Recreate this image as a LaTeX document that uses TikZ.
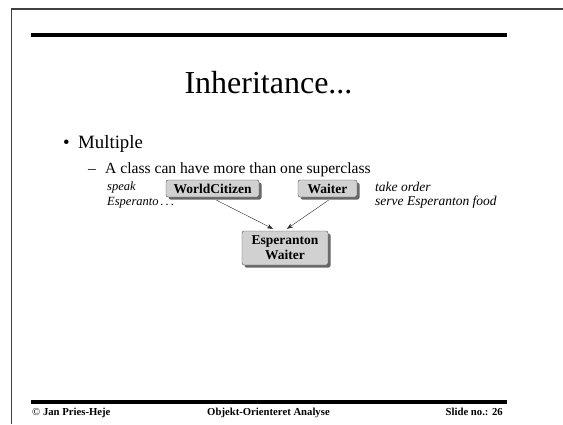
\documentclass[tikz,border=0pt]{standalone}
\usepackage{fontspec}
\setmainfont{Liberation Serif}
\usetikzlibrary{positioning,shadows,arrows.meta}

\begin{document}
\begin{tikzpicture}[x=1pt, y=-1pt,
    classbox/.style={draw=black!70, fill=black!18, rounded corners=2pt, inner sep=0pt, minimum height=17pt, font=\fontsize{13.5}{15}\selectfont\bfseries, drop shadow={shadow xshift=2.5pt, shadow yshift=-2.5pt, fill=black!60, opacity=1}},
    note/.style={anchor=base west, inner sep=0pt, font=\fontsize{13.5}{15}\selectfont\itshape},
    foot/.style={inner sep=0pt, font=\fontsize{10.7}{12}\selectfont\bfseries},
    rule/.style={line width=4pt}]
        \useasboundingbox (0,0) rectangle (563,424);
        % Frame
        \draw[line width=1.6pt, black!75] (11.5,424) -- (11.5,9) -- (563,9);
        \draw[rule] (31,35) -- (507,35);
        \draw[rule] (31,402) -- (507,402);

        % Nodes
        \node[anchor=base, inner sep=0pt, font=\fontsize{32}{38}\selectfont] (title) at (268.5,93) {Inheritance...};
        \node[anchor=base west, inner sep=0pt, font=\fontsize{18.8}{22}\selectfont] (bullet) at (63,148) {•};
        \node[anchor=base west, inner sep=0pt, font=\fontsize{18.8}{22}\selectfont] (multiple) at (78,148) {Multiple};
        \node[anchor=base west, inner sep=0pt, font=\fontsize{15.6}{18}\selectfont] (dash) at (88,173) {–};
        \node[anchor=base west, inner sep=0pt, font=\fontsize{15.6}{18}\selectfont] (point) at (105,173) {A class can have more than one superclass};
        \node[note, font=\fontsize{12.5}{14}\selectfont\itshape] (speak) at (107,190) {speak};
        \node[note, font=\fontsize{12.5}{14}\selectfont\itshape] (esperanto) at (107,205) {Esperanto\,.\,.\,.};
        \node[note] (order) at (375,191) {take order};
        \node[note] (serve) at (375,205) {serve Esperanton food};
        \node[classbox, minimum width=93pt] (wc) at (212.5,188.5) {WorldCitizen};
        \node[classbox, minimum width=59pt] (waiter) at (327.5,188.5) {Waiter};
        \node[classbox, minimum width=86pt, minimum height=34pt, align=center] (ew) at (285,248) {Esperanton\\Waiter};
        \node[foot, anchor=base west] (author) at (32,415) {\mdseries©\bfseries{} Jan Pries-Heje};
        \node[foot, anchor=base] (course) at (268.5,415) {Objekt-Orienteret Analyse};
        \node[foot, anchor=base east] (slideno) at (503,415) {Slide no.: 26};

        % Edges
        \draw[-{Stealth[length=6pt, width=4.5pt]}, black!85] ([xshift=4pt, yshift=-3pt]wc.south) -- ([xshift=-12pt, yshift=2pt]ew.north);
        \draw[-{Stealth[length=6pt, width=4.5pt]}, black!85] ([xshift=1pt, yshift=-3pt]waiter.south) -- ([xshift=2pt, yshift=2pt]ew.north);
    \end{tikzpicture}
\end{document}
